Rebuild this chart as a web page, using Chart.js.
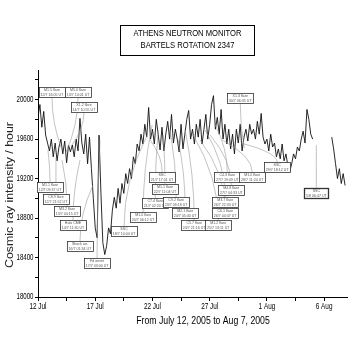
<!DOCTYPE html>
<html>
<head>
<meta charset="utf-8">
<script src="https://cdn.jsdelivr.net/npm/chart.js@4.4.1/dist/chart.umd.min.js"></script>
<style>
  html,body{margin:0;padding:0;background:#fff;}
  #c{display:block;}
</style>
</head>
<body>
<canvas id="c" width="350" height="354"></canvas>
<script>
/* ========= DATA ========= */
// Athens NM, Bartels rotation 2347, one value every 4 hours from 12 Jul 2005 00:00
const sampleHours = 4;
const intensity = [
  19820,19950,19720,19880,19640,19560,  // 12 Jul
  19480,19600,19420,19560,19380,19520,  // 13 Jul
  19600,19450,19580,19360,19540,19470,  // 14 Jul
  19540,19420,19600,19480,19810,19560,  // 15 Jul
  19450,19650,19350,19620,19300,19000,  // 16 Jul
  18700,18600,19640,19050,18550,18430,  // 17 Jul
  18520,18700,18640,18880,19010,18900,  // 18 Jul
  19100,18950,19150,19050,19250,19150,  // 19 Jul
  19300,19200,19420,19350,19550,19480,  // 20 Jul
  19650,19550,19750,19620,19920,19600,  // 21 Jul
  19700,19550,19800,19650,19490,19720,  // 22 Jul
  19480,19650,19780,19600,19850,19560,  // 23 Jul
  19700,19600,19470,19750,19500,19650,  // 24 Jul
  19800,19890,19600,19700,19550,19750,  // 25 Jul
  19620,19800,19550,19700,19850,19600,  // 26 Jul
  19750,19950,20040,19700,19820,19650,  // 27 Jul
  19900,19600,19750,19550,19700,19500,  // 28 Jul
  19650,19450,19700,19560,19750,19480,  // 29 Jul
  19620,19700,19580,19750,19650,19700,  // 30 Jul
  19600,19780,19650,19860,19620,19550,  // 31 Jul
  19600,19480,19650,19520,19560,19420,  // 1 Aug
  19500,19400,19550,19380,19450,19330,  // 2 Aug
  19270,19350,19450,19400,19520,19480,  // 3 Aug
  19600,19680,19560,19900,19800,19650,  // 4 Aug
  19600,null,null,null,null,null,       // 5 Aug (no data)
  null,null,null,null,19620,19500,      // 6 Aug
  19350,19200,19300,19150,19250,19130   // 7 Aug
];

const xTickLabels = ['12 Jul','17 Jul','22 Jul','27 Jul','1 Aug','6 Aug'];
const yTickValues = [18000,18400,18800,19200,19600,20000];

const titleLines = ['ATHENS NEUTRON MONITOR','BARTELS ROTATION 2347'];
const xTitle = 'From July 12, 2005 to Aug 7, 2005';
const yTitle = 'Cosmic ray intensity / hour';

// event labels: text, box centre (day, counts), point on curve (day, counts)
const eventText = [
  ['M1.5 flare','12/7 16:05 UT'],['M5.0 flare','13/7 14:01 UT'],['X1.2 flare','14/7 10:55 UT'],
  ['M1.1 flare','12/7 09:37 UT'],['C8.9 flare','12/7 21:52 UT'],['M3.2 flare','13/7 04:15 UT'],
  ['Halo CME','14/7 11:30 UT'],['Shock arr.','16/7 01:34 UT'],['Fd onset','17/7 03:00 UT'],
  ['SSC','18/7 10:04 UT'],['M1.0 flare','20/7 06:12 UT'],['C7.4 flare','21/7 02:20 UT'],
  ['M1.1 flare','22/7 11:04 UT'],['SSC','21/7 17:01 UT'],['C9.2 flare','23/7 09:18 UT'],
  ['M2.1 flare','24/7 05:40 UT'],['C5.7 flare','24/7 21:16 UT'],['M1.2 flare','25/7 13:11 UT'],
  ['C6.1 flare','26/7 04:47 UT'],['M3.7 flare','26/7 22:33 UT'],['M4.8 flare','27/7 04:33 UT'],
  ['C4.3 flare','27/7 19:09 UT'],['M1.0 flare','28/7 11:24 UT'],['X1.3 flare','30/7 06:35 UT'],
  ['SSC','29/7 18:12 UT'],['SSC','5/8 06:47 UT']
];
const eventBox = [
  [1.22,20076],[3.50,20076],[4.02,19924],[1.05,19114],[1.57,18992],[2.54,18871],
  [3.06,18729],[3.67,18516],[5.16,18344],[7.52,18668],[9.19,18810],[10.24,18952],
  [11.10,19094],[10.85,19215],[12.07,18962],[12.86,18851],[13.65,18729],[15.75,18729],
  [16.36,18851],[16.36,18962],[16.89,19083],[16.54,19215],[18.72,19215],[17.67,20015],
  [20.90,19316],[24.32,19053]
];
const eventHit = [
  [2.10,19489],[2.45,19468],[2.97,19539],[0.87,19489],[1.57,19408],[2.10,19387],
  [3.67,19387],[4.81,19134],[5.42,19590],[9.54,19640],[9.97,19742],[10.50,19691],
  [10.94,19640],[9.80,19590],[11.55,19691],[12.25,19590],[12.86,19691],[13.56,19640],
  [14.17,19590],[14.61,19691],[15.05,19640],[15.49,19742],[16.10,19590],[18.02,19509],
  [17.76,19559],[24.32,19539]
];

/* ========= PLUGINS ========= */
const FONT = '"Liberation Sans",Arial,sans-serif';

// condensed text helper
function squeeze(ctx, txt, x, y, sx){
  ctx.save(); ctx.translate(x,y); ctx.scale(sx,1); ctx.fillText(txt,0,0); ctx.restore();
}

const decor = {
  id:'decor',
  afterDatasetsDraw(chart){
    const ctx = chart.ctx, xs = chart.scales.x, ys = chart.scales.y;
    ctx.save();
    // leader lines
    ctx.strokeStyle = '#9a9a9a'; ctx.lineWidth = 0.6;
    eventBox.forEach((b,i)=>{
      const bx = xs.getPixelForValue(b[0]), by = ys.getPixelForValue(b[1]);
      const hx = xs.getPixelForValue(eventHit[i][0]), hy = ys.getPixelForValue(eventHit[i][1]);
      const sy = hy < by ? by-5 : by+5;
      ctx.beginPath(); ctx.moveTo(bx,sy);
      ctx.quadraticCurveTo(bx,(sy+hy)/2,hx,hy); ctx.stroke();
    });
    // boxes
    ctx.font = '3.6px ' + FONT;
    ctx.textAlign = 'center'; ctx.textBaseline = 'middle';
    eventBox.forEach((b,i)=>{
      const bx = xs.getPixelForValue(b[0]), by = ys.getPixelForValue(b[1]);
      const w = Math.max(ctx.measureText(eventText[i][0]).width, ctx.measureText(eventText[i][1]).width) + 3;
      const h = 10;
      ctx.fillStyle = '#fff';
      ctx.fillRect(Math.round(bx-w/2)+0.5, Math.round(by-h/2)+0.5, Math.round(w), h);
      ctx.strokeStyle = '#333'; ctx.lineWidth = i===eventBox.length-1 ? 1.3 : 0.8;
      ctx.strokeRect(Math.round(bx-w/2)+0.5, Math.round(by-h/2)+0.5, Math.round(w), h);
      ctx.fillStyle = '#555';
      ctx.fillText(eventText[i][0], bx, by-2);
      ctx.fillText(eventText[i][1], bx, by+2.5);
    });
    ctx.restore();
  },
  afterDraw(chart){
    const ctx = chart.ctx, xs = chart.scales.x, ys = chart.scales.y;
    ctx.save();
    ctx.fillStyle = '#000';
    ctx.textBaseline = 'middle';
    // title box
    ctx.strokeStyle = '#000'; ctx.lineWidth = 1;
    ctx.strokeRect(120.5,25.5,134,30);
    ctx.font = '9.5px ' + FONT; ctx.textAlign = 'center';
    squeeze(ctx, titleLines[0], 187.5, 33.5, 0.8);
    squeeze(ctx, titleLines[1], 187.5, 45, 0.8);
    // x tick labels
    ctx.font = '8.5px ' + FONT;
    xTickLabels.forEach((t,i)=> squeeze(ctx, t, xs.getPixelForValue(i*5), 306.5, 0.75));
    // y tick labels
    ctx.textAlign = 'right';
    yTickValues.forEach(v=> squeeze(ctx, String(v), 33.5, ys.getPixelForValue(v), 0.72));
    // x title
    ctx.textAlign = 'center';
    ctx.font = '10px ' + FONT;
    squeeze(ctx, xTitle, 203, 321, 0.87);
    // y title
    ctx.fillStyle = '#222';
    ctx.font = '10.5px ' + FONT;
    ctx.translate(10,195); ctx.rotate(-Math.PI/2);
    squeeze(ctx, yTitle, 0, 0, 1.18);
    ctx.restore();
  }
};

/* ========= CHART ========= */
const points = intensity.map((v,i)=>({x:i*sampleHours/24, y:v}));

new Chart(document.getElementById('c'), {
  type:'line',
  data:{datasets:[{
    data:points, borderColor:'#111', borderWidth:0.9, pointRadius:0,
    tension:0, spanGaps:false, fill:false
  }]},
  options:{
    responsive:false, animation:false, devicePixelRatio:1,
    layout:{padding:{top:70,right:3,left:0,bottom:0}},
    plugins:{legend:{display:false}, tooltip:{enabled:false}},
    scales:{
      x:{
        type:'linear', min:0, max:27,
        afterFit(s){ s.height = 57; },
        grid:{drawOnChartArea:false, tickLength:4, color:'#000', lineWidth:1},
        border:{display:true, color:'#000', width:1},
        ticks:{stepSize:2.5, includeBounds:false, autoSkip:false, maxRotation:0,
          color:'rgba(0,0,0,0)', font:{size:8}}
      },
      y:{
        min:18000, max:20300,
        afterFit(s){ s.width = 38; },
        grid:{drawOnChartArea:false, tickLength:3, color:'#000', lineWidth:1},
        border:{display:true, color:'#000', width:1},
        ticks:{stepSize:200, includeBounds:false, autoSkip:false,
          color:'rgba(0,0,0,0)', font:{size:8}}
      }
    }
  },
  plugins:[decor]
});
</script>
</body>
</html>
